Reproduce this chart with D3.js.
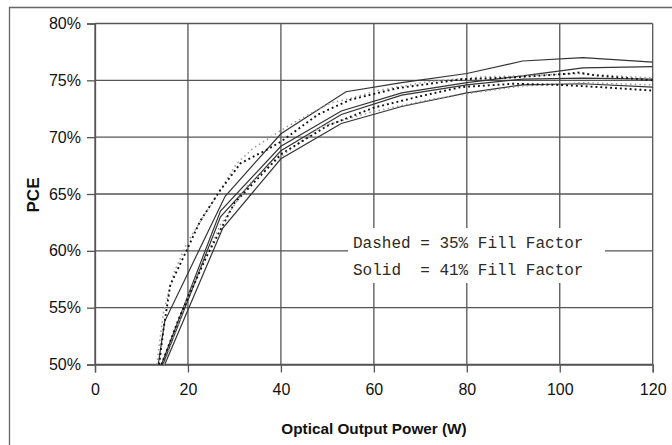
<!DOCTYPE html>
<html><head><meta charset="utf-8">
<script src="https://cdn.jsdelivr.net/npm/d3@7/dist/d3.min.js"></script>
<style>html,body{margin:0;padding:0;background:#fff;}svg{display:block;}</style>
</head><body>
<svg id="c" width="672" height="445"></svg>
<script>
// ---- data ----
const xTicks = [0, 20, 40, 60, 80, 100, 120];
const yTicks = [50, 55, 60, 65, 70, 75, 80];

// Solid = 41% fill factor
const solid1W   = [13.6, 15.0, 28, 40, 54, 66, 80, 92, 105, 120];
const solid1PCE = [50, 53.8, 64.8, 70.3, 74.0, 74.8, 75.6, 76.7, 77.0, 76.6];
const solid2W   = [14.3, 27, 40, 53, 66, 80, 92, 105, 120];
const solid2PCE = [50, 63.5, 69.2, 72.3, 73.9, 74.8, 75.4, 76.1, 76.2];
const solid3W   = [14.6, 27, 40, 53, 66, 80, 92, 105, 120];
const solid3PCE = [50, 63.0, 68.8, 72.0, 73.7, 74.6, 75.1, 75.2, 75.1];
const solid4W   = [15.0, 27.5, 40, 53, 66, 80, 92, 105, 120];
const solid4PCE = [50, 62.0, 68.1, 71.2, 72.7, 73.9, 74.6, 74.7, 74.4];

// Dashed = 35% fill factor
const dash1W   = [13.3, 14.7, 16.9, 19.8, 23.3, 26.9, 30.5, 34, 40, 44.2, 50.6, 55, 60.7, 72, 83, 92, 104, 120];
const dash1PCE = [50, 54.5, 58.0, 60.7, 63.0, 65.3, 67.7, 69.0, 70.6, 71.6, 73.0, 73.4, 74.1, 74.9, 75.3, 75.4, 75.6, 75.2];
const dash2W   = [13.8, 14.7, 16.2, 19.8, 22.6, 26.9, 31.3, 37, 40, 48, 55, 65, 79, 90, 102.4, 103.8, 107.4, 120];
const dash2PCE = [50, 53.0, 57.0, 60.1, 62.6, 65.3, 67.7, 68.9, 69.6, 72.0, 73.3, 74.3, 75.1, 75.25, 75.6, 75.7, 75.45, 75.0];
const dash3W   = [14.8, 20, 27, 33, 40, 48.5, 59.3, 72, 83, 92, 105, 120];
const dash3PCE = [50, 56.0, 62.3, 65.8, 68.3, 70.9, 72.2, 73.3, 74.0, 74.5, 74.8, 74.6];
const dash4W   = [14.3, 18, 24, 30, 40, 50, 60, 70, 78.7, 90, 100, 108.8, 120];
const dash4PCE = [50, 54, 59.5, 64.2, 68.5, 71.0, 72.6, 73.6, 74.4, 74.7, 74.6, 74.4, 74.1];

const legendLines = ["Dashed = 35% Fill Factor", "Solid  = 41% Fill Factor"];

// ---- drawing ----
const svg = d3.select("#c");
const L = 95, R = 652.7, T = 23.5, B = 364.5;
const x = d3.scaleLinear().domain([0, 120]).range([L, R]);
const y = d3.scaleLinear().domain([50, 80]).range([B, T]);

// outer frame
svg.append("path").attr("d", "M9.5,445 L9.5,7.5 L672,7.5")
  .attr("fill", "none").attr("stroke", "#666").attr("stroke-width", 1.3);

const grid = svg.append("g").attr("stroke", "#555").attr("stroke-width", 1.3);
yTicks.forEach(t => grid.append("line").attr("x1", L).attr("x2", R).attr("y1", y(t)).attr("y2", y(t)));
xTicks.forEach(t => grid.append("line").attr("x1", x(t)).attr("x2", x(t)).attr("y1", T).attr("y2", B));

// axes with crossing ticks
const yAxis = svg.append("g").attr("transform", `translate(${L},0)`)
  .call(d3.axisLeft(y).tickValues(yTicks).tickSize(8).tickPadding(6).tickFormat(d => d + "%"));
const xAxis = svg.append("g").attr("transform", `translate(0,${B})`)
  .call(d3.axisBottom(x).tickValues(xTicks).tickSize(8).tickPadding(11));
[yAxis, xAxis].forEach(a => {
  a.select(".domain").attr("stroke", "#555").attr("stroke-width", 1.3);
  a.selectAll(".tick line").attr("stroke", "#555").attr("stroke-width", 1.3);
  a.selectAll("text").attr("fill", "#111").style("font-family", "'Liberation Sans', Arial, sans-serif").style("font-size", "16px");
});

const line = d3.line().x(d => x(d[0])).y(d => y(d[1]));
const zip = (a, b) => a.map((v, i) => [v, b[i]]);
const curves = svg.append("g");
[[solid1W, solid1PCE], [solid2W, solid2PCE], [solid3W, solid3PCE], [solid4W, solid4PCE]].forEach(s => {
  curves.append("path").attr("d", line(zip(s[0], s[1])))
    .attr("fill", "none").attr("stroke", "#333").attr("stroke-width", 1.2);
});
const dashStyles = [
  {c: "#999", w: 1.5, d: "1.5,3.2"},
  {c: "#111", w: 1.9, d: "1.9,3.0"},
  {c: "#999", w: 1.5, d: "1.5,3.2"},
  {c: "#111", w: 1.9, d: "1.9,3.0"}
];
[[dash1W, dash1PCE], [dash2W, dash2PCE], [dash3W, dash3PCE], [dash4W, dash4PCE]].forEach((s, i) => {
  curves.append("path").attr("d", line(zip(s[0], s[1])))
    .attr("fill", "none").attr("stroke", dashStyles[i].c).attr("stroke-width", dashStyles[i].w)
    .attr("stroke-dasharray", dashStyles[i].d);
});

// legend box
svg.append("rect").attr("x", 348).attr("y", 228).attr("width", 257).attr("height", 55).attr("fill", "#fff");
legendLines.forEach((t, i) => {
  svg.append("text").attr("x", 353).attr("y", 248 + i * 27)
    .attr("xml:space", "preserve").style("white-space", "pre")
    .style("font-family", "'Liberation Mono', 'DejaVu Sans Mono', monospace").style("font-size", "16px")
    .attr("fill", "#2e2a22").text(t);
});

// axis titles
svg.append("text").attr("x", 374).attr("y", 434).attr("text-anchor", "middle")
  .style("font-family", "'Liberation Sans', Arial, sans-serif").style("font-weight", "bold").style("font-size", "15.3px")
  .attr("fill", "#111").text("Optical Output Power (W)");
svg.append("text").attr("transform", "translate(39,195) rotate(-90)").attr("text-anchor", "middle")
  .style("font-family", "'Liberation Sans', Arial, sans-serif").style("font-weight", "bold").style("font-size", "17px")
  .attr("fill", "#111").text("PCE");
</script>
</body></html>
